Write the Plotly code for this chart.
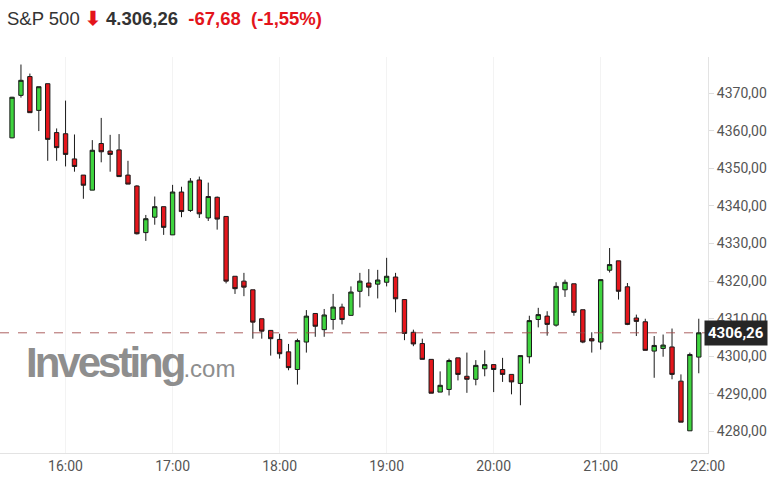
import pandas as pd
import plotly.graph_objects as go

# 5-minute candles, 15:30 .. 21:55
times = pd.date_range("2023-08-02 15:30", periods=78, freq="5min")

opens = [4358.1, 4369.4, 4374.4, 4365.4, 4372.5, 4359.5, 4359.2, 4352.5, 4348.2, 4344.2,
         4356.6, 4354.6, 4354.9, 4348.2, 4345.3, 4332.9, 4337.0, 4339.8, 4332.3, 4343.7,
         4338.8, 4346.9, 4336.8, 4342.3, 4337.2, 4321.3, 4320.0, 4317.7, 4310.0, 4306.9,
         4304.5, 4301.2, 4296.5, 4303.8, 4311.4, 4307.1, 4309.8, 4313.1, 4310.9, 4317.3,
         4319.5, 4319.2, 4319.7, 4321.1, 4315.1, 4306.4, 4303.4, 4299.2, 4290.5, 4291.2,
         4299.6, 4294.7, 4293.9, 4296.7, 4297.8, 4296.5, 4295.2, 4292.8, 4299.9, 4309.8,
         4310.7, 4308.3, 4317.7, 4319.3, 4312.4, 4304.7, 4303.8, 4322.9, 4325.4, 4318.5,
         4310.2, 4309.2, 4301.4, 4302.1, 4302.5, 4293.4, 4280.2, 4299.8]
highs = [4369.0, 4377.6, 4375.2, 4371.7, 4372.5, 4360.6, 4368.0, 4359.0, 4348.2, 4357.5,
         4363.4, 4358.9, 4359.1, 4352.0, 4345.5, 4337.6, 4342.5, 4339.8, 4345.6, 4345.1,
         4347.4, 4347.8, 4346.2, 4342.5, 4337.2, 4321.3, 4322.2, 4317.7, 4310.0, 4307.0,
         4306.0, 4303.3, 4304.7, 4312.3, 4311.4, 4312.6, 4316.6, 4314.0, 4318.6, 4322.2,
         4323.2, 4323.0, 4326.2, 4322.2, 4315.1, 4307.1, 4304.7, 4299.2, 4296.0, 4299.4,
         4299.6, 4301.0, 4299.0, 4301.6, 4297.8, 4299.6, 4295.2, 4300.2, 4310.8, 4312.9,
         4312.0, 4319.7, 4320.4, 4319.3, 4312.4, 4306.4, 4320.4, 4328.8, 4325.4, 4319.5,
         4311.1, 4310.0, 4305.4, 4305.8, 4307.4, 4295.2, 4301.0, 4310.0]
lows = [4358.0, 4368.8, 4364.8, 4359.9, 4352.0, 4352.0, 4350.5, 4349.1, 4341.9, 4344.2,
        4351.6, 4349.1, 4347.8, 4345.8, 4332.4, 4330.7, 4335.0, 4332.3, 4332.3, 4337.0,
        4338.4, 4336.8, 4336.0, 4333.7, 4319.4, 4316.6, 4316.0, 4304.7, 4304.7, 4300.2,
        4299.4, 4296.3, 4292.5, 4301.0, 4305.2, 4305.2, 4307.1, 4308.5, 4310.9, 4313.0,
        4316.0, 4315.4, 4318.6, 4311.7, 4304.3, 4302.7, 4299.2, 4290.2, 4290.5, 4289.6,
        4293.6, 4290.3, 4292.3, 4294.7, 4290.5, 4293.2, 4289.9, 4287.0, 4298.1, 4307.7,
        4305.5, 4307.9, 4315.8, 4310.8, 4303.5, 4301.0, 4301.8, 4322.3, 4315.1, 4308.3,
        4305.4, 4301.6, 4294.3, 4299.9, 4293.9, 4282.5, 4280.2, 4295.5]
closes = [4368.9, 4373.4, 4364.8, 4371.7, 4357.7, 4355.5, 4353.7, 4350.5, 4345.5, 4354.8,
          4354.4, 4353.7, 4347.8, 4345.8, 4332.6, 4336.6, 4339.8, 4334.3, 4343.7, 4338.5,
          4346.6, 4337.9, 4342.5, 4336.5, 4320.0, 4318.0, 4318.4, 4309.1, 4306.7, 4304.7,
          4300.7, 4297.0, 4304.2, 4310.7, 4308.0, 4311.0, 4313.1, 4309.8, 4317.1, 4320.0,
          4318.4, 4320.3, 4321.3, 4315.3, 4306.1, 4303.3, 4299.2, 4290.2, 4292.3, 4298.9,
          4295.2, 4293.9, 4297.6, 4297.8, 4296.5, 4295.2, 4293.2, 4300.2, 4309.5, 4311.1,
          4308.5, 4318.6, 4319.7, 4311.7, 4303.8, 4304.1, 4320.4, 4324.4, 4317.3, 4308.5,
          4309.3, 4301.6, 4302.9, 4303.0, 4295.2, 4282.5, 4300.5, 4306.26]

y_ticks = [4280, 4290, 4300, 4310, 4320, 4330, 4340, 4350, 4360, 4370]

last = closes[-1]
last_txt = f"{last:.2f}".replace(".", ",")

fig = go.Figure()
fig.add_trace(go.Candlestick(
    x=times, open=opens, high=highs, low=lows, close=closes,
    increasing=dict(line=dict(color="#1a1a1a", width=1), fillcolor="#3fd43f"),
    decreasing=dict(line=dict(color="#1a1a1a", width=1), fillcolor="#e5161c"),
    whiskerwidth=0, showlegend=False,
))

# last price line
fig.add_shape(type="line", xref="paper", x0=0, x1=1, y0=last, y1=last,
              line=dict(color="rgba(160,70,70,0.85)", width=1, dash="dash"))

fig.add_annotation(xref="paper", x=1, xshift=-4, xanchor="left", y=last,
                   text=f"<b>{last_txt}</b>", showarrow=False,
                   font=dict(family="Roboto", size=15, color="white"),
                   bgcolor="#262626", borderpad=3)

# title line
fig.add_annotation(
    xref="paper", yref="paper", x=0, xshift=5, y=1, yshift=39, xanchor="left", yanchor="middle",
    text=("S&P 500 <span style='color:#e3141b'><b>⬇</b></span> <b>4.306,26</b>  "
          "<span style='color:#e3141b'><b>-67,68  (-1,55%)</b></span>"),
    showarrow=False, font=dict(family="Liberation Sans, Arial", size=18.5, color="#333333"))

# watermark
fig.add_annotation(
    xref="paper", yref="paper", x=0, xshift=24, y=0.24, yshift=-5,
    xanchor="left", yanchor="middle",
    text=("<span style='letter-spacing:-3px'><b>Investing</b></span>"
          "<span style='font-size:24px'>.com</span>"),
    showarrow=False,
    font=dict(family="Liberation Sans, Arial", size=42, color="#8e8e8e"))

fig.update_layout(
    width=779, height=483,
    margin=dict(l=0, r=71, t=57, b=30),
    paper_bgcolor="white", plot_bgcolor="white",
    separators=",.",
    xaxis=dict(
        type="date",
        range=["2023-08-02 15:23:15", "2023-08-02 22:00:10"],
        rangeslider=dict(visible=False),
        dtick=3600000, tickformat="%H:%M",
        showgrid=True, gridcolor="#f3f3f3",
        showline=True, linecolor="#e3e3e3",
        ticks="", tickfont=dict(family="Roboto", size=14, color="#555555"),
    ),
    yaxis=dict(
        side="right", range=[4274.3, 4379.6],
        tickvals=y_ticks, tickformat=".2f",
        showgrid=False, zeroline=False,
        showline=True, linecolor="#e3e3e3",
        ticks="outside", ticklen=5, tickcolor="#dddddd",
        tickfont=dict(family="Roboto", size=14, color="#555555"),
    ),
)

fig.write_html("out.html", config={"displayModeBar": False},
               post_script="document.body.style.margin='0';")
